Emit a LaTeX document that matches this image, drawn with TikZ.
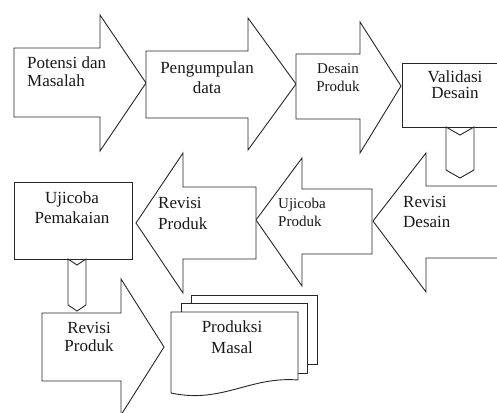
\documentclass[tikz,border=0pt]{standalone}
\usepackage{fontspec}
\setmainfont{Liberation Serif}
\begin{document}
\begin{tikzpicture}[x=1pt,y=-1pt,
  shp/.style={draw=black!85,line width=0.9pt,fill=white,line join=miter},
  lbl/.style={inner sep=0pt,text=black!90,font=\fontsize{17}{#1}\selectfont},
  lbls/.style={inner sep=0pt,text=black!90,font=\fontsize{15}{#1}\selectfont}]
\useasboundingbox (0,0) rectangle (497,412);
\clip (0,0) rectangle (497,412);
% top row
\draw[shp] (14,48) -- (100,48) -- (100,15) -- (146,83) -- (100,151) -- (100,117) -- (14,117) -- cycle;
\draw[shp] (146,51) -- (248,51) -- (248,18) -- (296,84) -- (248,150) -- (248,118) -- (146,118) -- cycle;
\draw[shp] (296,54) -- (360,54) -- (360,22) -- (401,86) -- (360,153) -- (360,119) -- (296,119) -- cycle;
\draw[shp] (402,63) rectangle (510,127);
\draw[shp] (446,127) -- (446,170) -- (460,178) -- (474,170) -- (474,127) -- (460,135) -- cycle;
% middle row
\draw[shp] (510,186) -- (426,186) -- (426,153) -- (373,221) -- (426,292) -- (426,258) -- (510,258) -- cycle;
\draw[shp] (372,189) -- (302,189) -- (302,158) -- (256,220) -- (302,286) -- (302,254) -- (372,254) -- cycle;
\draw[shp] (256,187) -- (183,187) -- (183,153) -- (136,223) -- (183,293) -- (183,259) -- (256,259) -- cycle;
\draw[shp] (14,182) rectangle (132,259);
\draw[shp] (68,259) -- (68,305) -- (77,311) -- (86,305) -- (86,259) -- (77,265) -- cycle;
% bottom row
\draw[shp] (42,313) -- (121,313) -- (121,279) -- (164,347) -- (121,415) -- (121,381) -- (42,381) -- cycle;
\draw[shp] (191,295) rectangle (317,364);
\draw[shp] (181,303) rectangle (307,373);
\draw[shp] (171,312) -- (298,312) -- (298,380) .. controls (250,376) and (222,404) .. (171,393) -- cycle;
% labels (anchor = baseline of the last line)
\node[lbl=18,anchor=base west,align=left] (t1) at (27,86) {Potensi dan\\Masalah};
\node[lbl=20,anchor=base,align=center] (t2) at (207,93) {Pengumpulan\\data};
\node[lbls=18,anchor=base,align=center] (t3) at (338,91) {Desain\\Produk};
\node[lbl=16,anchor=base,align=center] (t4) at (455,98) {Validasi\\Desain};
\node[lbl=20,anchor=base west,align=left] (t5) at (403,227) {Revisi\\Desain};
\node[lbls=18,anchor=base west,align=left] (t6) at (278,226) {Ujicoba\\Produk};
\node[lbl=21,anchor=base west,align=left] (t7) at (158,229) {Revisi\\Produk};
\node[lbl=20,anchor=base,align=center] (t8) at (72,223) {Ujicoba\\Pemakaian};
\node[lbl=18,anchor=base,align=center] (t9) at (89,351) {Revisi\\Produk};
\node[lbl=21,anchor=base,align=center] (t10) at (232,353) {Produksi\\Masal};
\end{tikzpicture}
\end{document}
